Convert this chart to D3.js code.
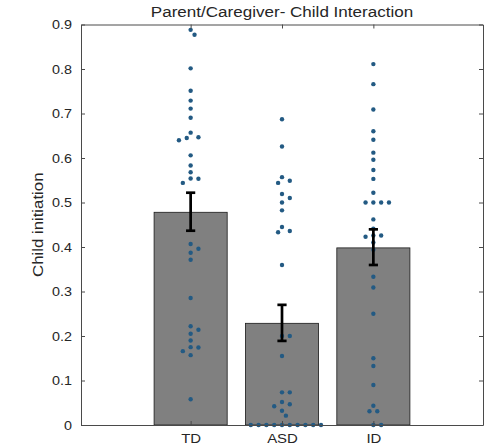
<!DOCTYPE html>
<html>
<head>
<meta charset="utf-8">
<script src="https://cdn.jsdelivr.net/npm/d3@7/dist/d3.min.js"></script>
<style>
  html, body { margin: 0; padding: 0; background: #fff; }
  svg { display: block; }
  text { font-family: "Liberation Sans", Arial, sans-serif; fill: #262626; }
</style>
</head>
<body>
<svg id="chart" width="499" height="447"></svg>
<script>
// ---------- data ----------
const categories = ["TD", "ASD", "ID"];
const categoryPositions = [1, 2, 3];
const barMeans = [0.478, 0.2285, 0.398];
const errLower = [0.4366, 0.189, 0.3596];
const errUpper = [0.522, 0.270, 0.4397];

const tdValues = [0.888, 0.877, 0.8015, 0.751, 0.729, 0.711, 0.6906, 0.657, 0.6465, 0.645, 0.640,
  0.606, 0.583, 0.568, 0.554, 0.5535, 0.544, 0.4067, 0.396, 0.387, 0.3715, 0.2854, 0.2218, 0.214,
  0.205, 0.190, 0.175, 0.174, 0.166, 0.157, 0.0577];
const asdValues = [0.687, 0.626, 0.557, 0.549, 0.544, 0.519, 0.510, 0.500, 0.4824, 0.445, 0.436,
  0.433, 0.3596, 0.200, 0.200, 0.155, 0.0734, 0.0734, 0.0517, 0.0465, 0.042, 0.032, 0.021,
  0, 0, 0, 0, 0, 0, 0, 0, 0, 0];
const idValues = [0.811, 0.766, 0.709, 0.660, 0.641, 0.612, 0.596, 0.573, 0.553, 0.522,
  0.500, 0.500, 0.500, 0.500, 0.462, 0.441, 0.426, 0.426, 0.423, 0.410, 0.394, 0.333, 0.309,
  0.250, 0.150, 0.1326, 0.090, 0.0434, 0.031, 0.031, 0, 0];
const groupValues = [tdValues, asdValues, idValues];

const yTicks = [0, 0.1, 0.2, 0.3, 0.4, 0.5, 0.6, 0.7, 0.8, 0.9];
const titleText = "Parent/Caregiver- Child Interaction";
const yLabelText = "Child initiation";

// ---------- layout ----------
const svg = d3.select("#chart");
const L = 81, R = 483, T = 24.5, B = 425;
const x = d3.scaleLinear().domain([-0.2, 4.2]).range([L, R]);
const y = d3.scaleLinear().domain([0, 0.9]).range([B, T]);
const barWidth = 0.8;
const SX = 1.15; // horizontal glyph stretch

function stretchText(sel, sx) {
  sel.each(function() {
    const t = d3.select(this);
    const xx = +t.attr("x") || 0;
    const yy = +t.attr("y") || 0;
    t.attr("x", 0).attr("y", 0)
     .attr("transform", `translate(${xx},${yy}) scale(${sx},1)`);
  });
}

// bars
svg.append("g").selectAll("rect")
  .data(categories.map((c, i) => ({c, pos: categoryPositions[i], m: barMeans[i]})))
  .join("rect")
  .attr("x", d => x(d.pos - barWidth / 2))
  .attr("width", d => x(d.pos + barWidth / 2) - x(d.pos - barWidth / 2))
  .attr("y", d => y(d.m))
  .attr("height", d => y(0) - y(d.m))
  .attr("fill", "#808080")
  .attr("stroke", "#1a1a1a")
  .attr("stroke-width", 0.8);

// beeswarm points (discrete horizontal slots)
const r = 2.2, minD = 6.2, slot = 3.9;
const pts = [];
groupValues.forEach((vals, gi) => {
  const cx = x(categoryPositions[gi]);
  const placed = [];
  const sorted = vals.slice().sort((a, b) => b - a);
  sorted.forEach(v => {
    const py = y(v);
    let best = null;
    for (let k = 0; k < 60 && best === null; k++) {
      const offs = k === 0 ? [0] : [k * slot, -k * slot];
      for (const o of offs) {
        const ok = placed.every(q => Math.hypot(q.x - (cx + o), q.y - py) >= minD);
        if (ok) { best = cx + o; break; }
      }
    }
    const pt = {x: best, y: py};
    placed.push(pt);
    pts.push(pt);
  });
});
svg.append("g").selectAll("circle").data(pts).join("circle")
  .attr("cx", d => d.x).attr("cy", d => d.y).attr("r", r)
  .attr("fill", "#235a83");

// error bars
const eg = svg.append("g").attr("stroke", "#000").attr("stroke-width", 2.7).attr("fill", "none");
categories.forEach((c, i) => {
  const cx = x(categoryPositions[i]);
  eg.append("line").attr("x1", cx).attr("x2", cx).attr("y1", y(errLower[i])).attr("y2", y(errUpper[i]));
  eg.append("line").attr("x1", cx - 4.6).attr("x2", cx + 4.6).attr("y1", y(errLower[i])).attr("y2", y(errLower[i]));
  eg.append("line").attr("x1", cx - 4.6).attr("x2", cx + 4.6).attr("y1", y(errUpper[i])).attr("y2", y(errUpper[i]));
});

// axes
const axisColor = "#4a4a4a";
function styleAxis(g) {
  g.select(".domain").attr("stroke", axisColor).attr("stroke-width", 1);
  g.selectAll(".tick line").attr("stroke", axisColor).attr("stroke-width", 1);
  g.selectAll("text").attr("fill", "#262626")
    .style("font-family", '"Liberation Sans", Arial, sans-serif');
}

const yAxis = svg.append("g").attr("transform", `translate(${L},0)`)
  .call(d3.axisLeft(y).tickValues(yTicks).tickFormat(d3.format(".1~f"))
        .tickSizeInner(-4).tickSizeOuter(0).tickPadding(9));
styleAxis(yAxis);
yAxis.selectAll("text").style("font-size", "12.5px").attr("dy", "0.35em");
stretchText(yAxis.selectAll("text"), SX);

const yAxisR = svg.append("g").attr("transform", `translate(${R},0)`)
  .call(d3.axisRight(y).tickValues(yTicks).tickFormat("").tickSizeInner(-4).tickSizeOuter(0));
styleAxis(yAxisR);

const xAxis = svg.append("g").attr("transform", `translate(0,${B})`)
  .call(d3.axisBottom(x).tickValues(categoryPositions).tickFormat((d, i) => categories[i])
        .tickSizeInner(-4).tickSizeOuter(0).tickPadding(9));
styleAxis(xAxis);
xAxis.selectAll("text").style("font-size", "13px").attr("dy", "0.71em");
stretchText(xAxis.selectAll("text"), SX);

const xAxisT = svg.append("g").attr("transform", `translate(0,${T})`)
  .call(d3.axisTop(x).tickValues(categoryPositions).tickFormat("").tickSizeInner(-4).tickSizeOuter(0));
styleAxis(xAxisT);

// title
svg.append("text")
  .attr("transform", `translate(${(L + R) / 2},16.7) scale(1.1,1)`)
  .attr("text-anchor", "middle")
  .style("font-size", "15.5px")
  .text(titleText);

// y label
svg.append("text")
  .attr("transform", `translate(43.3,${(T + B) / 2}) rotate(-90) scale(1.12,1)`)
  .attr("text-anchor", "middle")
  .style("font-size", "15px")
  .text(yLabelText);
</script>
</body>
</html>
